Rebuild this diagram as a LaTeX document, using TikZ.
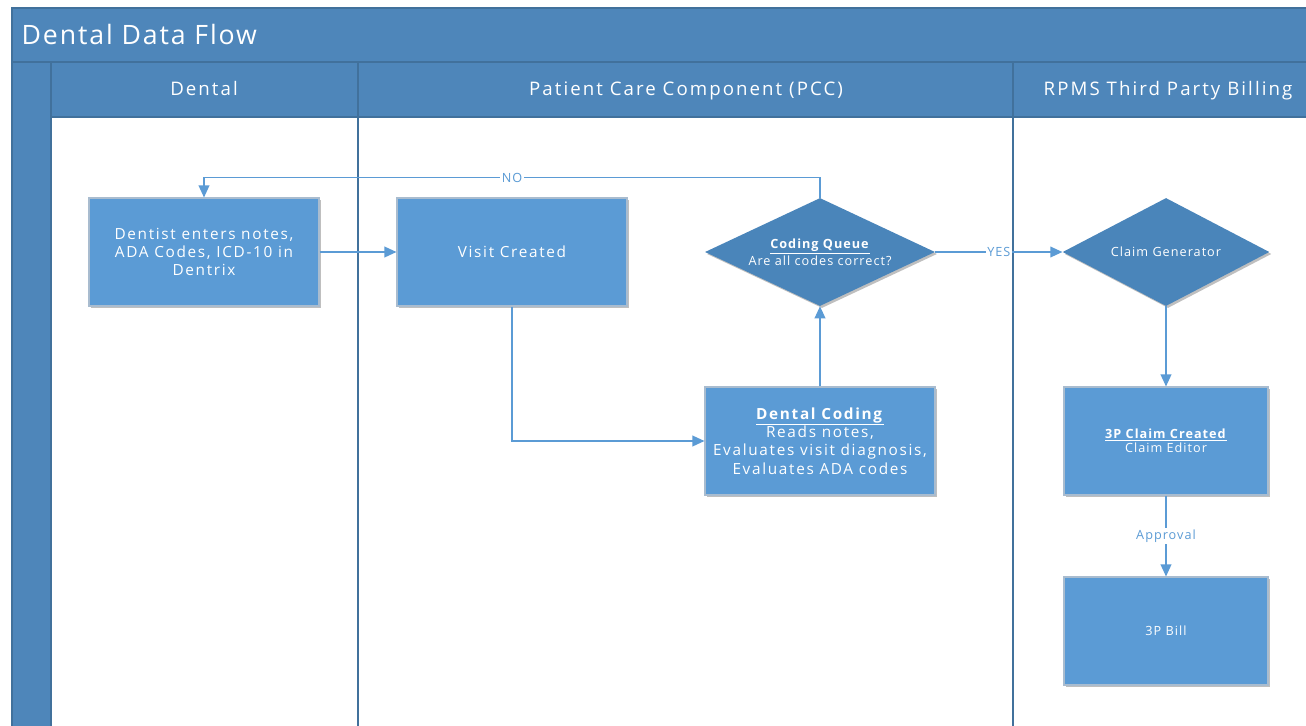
\documentclass[tikz,border=0pt]{standalone}
\usepackage{fontspec}
\setmainfont{Open Sans}
\usepackage{xcolor}
\usepackage{tikz}
\usetikzlibrary{arrows.meta,shapes.geometric,shadows}
\definecolor{hdrc}{HTML}{4E86BA}
\definecolor{hdrl}{HTML}{41719C}
\definecolor{boxc}{HTML}{5B9BD5}
\definecolor{boxl}{HTML}{A9BCCF}
\definecolor{decc}{HTML}{4A85BA}
\newcommand{\smallf}{\fontsize{9.5}{10.5}\selectfont\addfontfeature{LetterSpace=8}}
\tikzset{
  ar/.style={-{Triangle[length=9pt,width=8pt]},line width=1.1pt,boxc},
  hdr/.style={fill=hdrc,draw=hdrl,line width=0.8pt},
  lanel/.style={draw=hdrl,line width=1.4pt},
  shd/.style={drop shadow={shadow xshift=1.5pt,shadow yshift=-1.5pt,opacity=0.25,fill=black}},
  box/.style={draw=boxl,line width=0.8pt,fill=boxc,text=white,align=center,shd,
    minimum width=172.5pt,minimum height=81pt,inner sep=2pt,font=\fontsize{11.5}{13.8}\selectfont\addfontfeature{LetterSpace=11}},
  sbox/.style={box,minimum width=153pt,font=\smallf},
  dec/.style={diamond,aspect=2.13,fill=decc,text=white,align=center,shd,inner sep=0pt,
    minimum width=172.5pt,minimum height=81pt,font=\smallf},
  lbl/.style={fill=white,inner sep=1pt,text=boxc,font=\smallf}
}
\begin{document}
\begin{tikzpicture}[x=0.75pt,y=-0.75pt]
\useasboundingbox (0,0) rectangle (1306,725);
\fill[white] (0,0) rectangle (1306,725);
% pool and lanes
\draw[hdr] (12,8) rectangle (1320,62);
\node[anchor=base west,text=white,font=\fontsize{20}{22}\selectfont\addfontfeature{LetterSpace=7}] (title) at (17,44) {Dental Data Flow};
\draw[hdr] (12,62) rectangle (51,735);
\foreach \xa/\xb/\xc/\t [count=\i] in {51/358/204/Dental,358/1013/686/{Patient Care Component (PCC)},1013/1320/1168/{RPMS Third Party Billing}}{
 \draw[hdr] (\xa,62) rectangle (\xb,117);
 \node[anchor=base,text=white,font=\fontsize{14}{15}\selectfont\addfontfeature{LetterSpace=11}] (lane\i) at (\xc,95) {\t};}
\foreach \xa in {51,358,1013} \draw[lanel] (\xa,117) -- (\xa,735);

% steps
\node[box] (dent) at (204,252) {Dentist enters notes,\\ADA Codes, ICD-10 in\\Dentrix};
\node[box] (visit) at (512,252) {Visit Created};
\node[dec] (queue) at (820,252) {\underline{\textbf{Coding Queue}}\\Are all codes correct?};
\node[box] (code) at (820,441) {\underline{\textbf{Dental Coding}}\\Reads notes,\\Evaluates visit diagnosis,\\Evaluates ADA codes};
\node[dec,aspect=1.91,minimum width=155pt] (claimgen) at (1166,252) {Claim Generator};
\node[sbox] (claim) at (1166,441) {\underline{\textbf{3P Claim Created}}\\Claim Editor};
\node[sbox] (bill) at (1166,631) {3P Bill};

% flow
\draw[ar] (dent) -- (visit);
\draw[ar] (visit) |- (code);
\draw[ar] (code) -- (queue);
\draw[ar] (queue.north) -- ++(0,-20) -| node[pos=0.25,lbl]{NO} (dent.north);
\draw[ar] (queue) -- node[lbl]{YES} (claimgen);
\draw[ar] (claimgen) -- (claim);
\draw[ar] (claim) -- node[lbl]{Approval} (bill);
\end{tikzpicture}
\end{document}
